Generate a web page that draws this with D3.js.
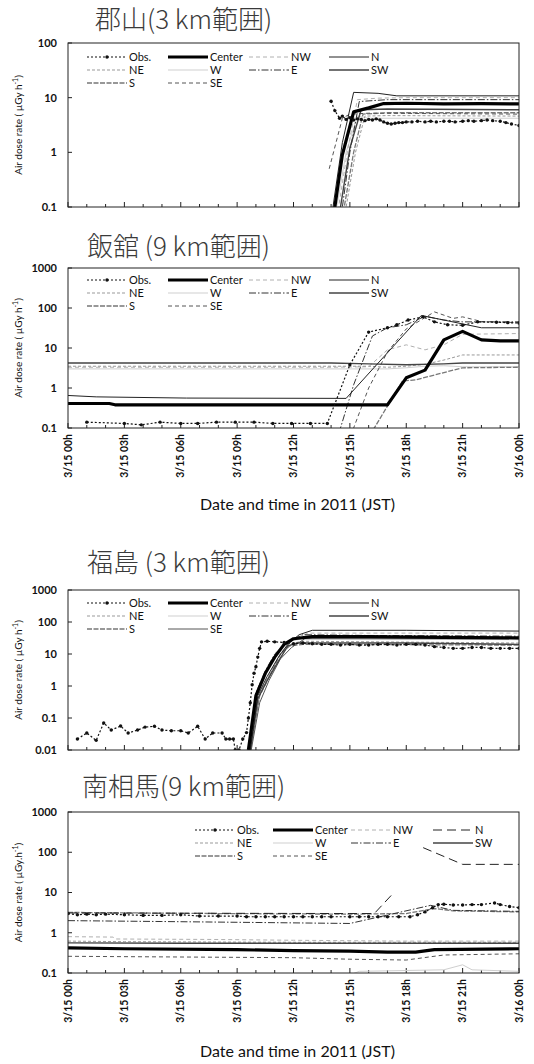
<!DOCTYPE html>
<html>
<head>
<meta charset="utf-8">
<script src="https://cdn.jsdelivr.net/npm/d3@7"></script>
<style>
  body { margin: 0; background: #fff; }
  svg { display: block; }
</style>
</head>
<body>
<svg id="chart" width="534" height="1064"></svg>
<script>
// ---- series and ticks ----
const seriesNames = ["Obs.", "Center", "NW", "N", "NE", "W", "E", "SW", "S", "SE"];
const hourTicks = [0, 3, 6, 9, 12, 15, 18, 21, 24];
const hourTickLabels = ["3/15 00h", "3/15 03h", "3/15 06h", "3/15 09h", "3/15 12h",
                        "3/15 15h", "3/15 18h", "3/15 21h", "3/16 00h"];

// 郡山 — [hour, µGy/h]
const koriyamaObs = [[14.0,8.6],[14.2,5.8],[14.45,4.2],[14.6,4.6],[14.8,4.0],[15.0,4.3],[15.2,3.9],[15.4,4.1],[15.6,4.0],[15.8,3.8],[16.0,4.0],[16.2,3.9],[16.4,4.1],[16.6,3.9],[16.8,3.6],[17.0,3.4],[17.2,3.3],[17.4,3.4],[17.6,3.5],[17.8,3.5],[18.0,3.6],[18.3,3.6],[18.6,3.7],[19.0,3.6],[19.3,3.7],[19.6,3.6],[20.0,3.7],[20.3,3.7],[20.6,3.6],[21.0,3.7],[21.3,3.8],[21.6,3.7],[22.0,3.8],[22.3,3.9],[22.6,3.8],[23.0,3.7],[23.3,3.5],[23.6,3.3],[24.0,3.1]];
const koriyamaCenter = [[13.6,0.04],[14.2,0.1],[14.6,0.9],[15.2,5.5],[16.0,6.5],[16.8,7.8],[18,7.9],[20,7.7],[22,7.8],[24,7.7]];
const koriyamaNW = [[13.8,0.04],[14.4,0.1],[14.9,1.2],[15.4,9.2],[16.5,9.8],[18,10],[24,10]];
const koriyamaN = [[13.5,0.04],[14.1,0.1],[14.6,1.5],[15.2,12.5],[16.5,12],[17.5,10.8],[24,10.8]];
const koriyamaNE = [[14.2,0.04],[14.8,0.1],[15.3,1.0],[15.8,4.6],[17,4.7],[24,4.6]];
const koriyamaW = [[13.7,0.04],[14.3,0.1],[14.8,1.0],[15.4,4.6],[16,4.2],[24,4.2]];
const koriyamaE = [[14.0,0.04],[14.6,0.1],[15.0,1.0],[15.5,8.5],[17,9.2],[24,9.2]];
const koriyamaSW = [[13.9,0.04],[14.5,0.1],[15.0,1.2],[15.6,6.0],[17,6.2],[24,6.0]];
const koriyamaS = [[14.1,0.04],[14.7,0.1],[15.2,1.0],[15.7,5.0],[17,5.3],[24,5.3]];
const koriyamaSE = [[13.9,0.5],[14.6,4.2],[15.0,5.0],[16,5.2],[24,5.0]];

// 飯舘
const iitateObs = [[1,0.14],[3,0.13],[3.9,0.12],[4.9,0.14],[6,0.13],[6.9,0.13],[7.9,0.14],[8.9,0.14],[9.9,0.14],[10.9,0.13],[11.9,0.13],[12.9,0.13],[13.8,0.13],[15,3.8],[16,25],[17,32],[17.5,38],[18.1,50],[18.9,60],[19.5,45],[20.2,38],[21,37],[21.8,45],[22.8,44],[23.4,43],[24,42]];
const iitateCenter = [[0,0.41],[2.2,0.41],[2.5,0.38],[16,0.38],[17,0.38],[18,1.8],[19,2.8],[20,16],[21,26],[22,16],[23,15],[24,15]];
const iitateNW = [[0,3.3],[14,3.3],[16,3.4],[17,9],[18,12],[19,9],[20,12],[21,22],[24,23]];
const iitateN = [[0,0.65],[1.5,0.6],[6.3,0.56],[14.8,0.55],[18.8,65],[20,50],[21,40],[22,32],[24,32]];
const iitateNE = [[0,3.5],[16,3.5],[17,3.3],[18,3.5],[19,3.9],[20,5],[21,6.7],[24,6.7]];
const iitateW = [[0,3.0],[15,3.0],[17,3.0],[18,3.2],[19,3.5],[20,3.6],[21,3.4],[24,3.4]];
const iitateE = [[13.8,0.05],[14.5,0.1],[15.2,1.2],[16.2,20],[17,32],[18,38],[19,62],[20,50],[21,45],[22,45],[24,45]];
const iitateSW = [[0,4.2],[14,4.2],[16,4.0],[18,3.8],[20,4.0],[21,4.2],[24,4.2]];
const iitateS = [[15.8,0.05],[16.3,0.1],[17.8,1.5],[18.5,1.6],[21,3.2],[24,3.3]];
const iitateSE = [[14.7,0.05],[15.2,0.1],[16,1],[17,8],[18,30],[19.5,80],[20.5,55],[21,60],[22,46],[24,43]];

// 福島
const fukushimaObs = [[0.5,0.022],[1,0.034],[1.5,0.02],[1.9,0.07],[2.3,0.042],[2.8,0.056],[3.2,0.034],[3.7,0.042],[4.1,0.052],[4.6,0.055],[5,0.042],[5.5,0.04],[6,0.04],[6.4,0.034],[6.9,0.055],[7.3,0.022],[7.7,0.034],[8.2,0.034],[8.4,0.022],[8.6,0.022],[8.8,0.022],[8.9,0.01],[9.1,0.01],[9.3,0.022],[9.5,0.035],[9.6,0.1],[9.7,0.3],[9.8,1.1],[9.9,2.5],[10.0,4],[10.1,8],[10.2,15],[10.3,24],[10.6,25],[11,24],[11.5,23],[12,21],[12.5,22],[13,21],[13.5,20],[14,20],[14.5,19],[15,20],[15.5,19],[16,19],[16.5,20],[17,20],[17.5,19],[18,20],[18.5,20],[19,19],[19.5,17],[20,16],[20.5,15],[21,15],[21.5,16],[22,16],[22.5,15],[23,15],[23.5,15],[24,15]];
const fukushimaCenter = [[9.6,0.01],[10,0.5],[10.5,2.5],[11,8],[11.5,20],[12,30],[13,35],[16,35],[20,33],[24,32]];
const fukushimaNW = [[9.7,0.01],[10.2,0.6],[10.8,3],[11.4,12],[12,30],[12.8,45],[24,45]];
const fukushimaN = [[9.7,0.01],[10.1,0.5],[10.6,2],[11.2,8],[11.7,20],[12.3,40],[13,55],[18,55],[24,52]];
const fukushimaNE = [[9.65,0.01],[10.1,0.7],[10.6,3],[11.2,12],[11.6,20],[12.5,25],[24,22]];
const fukushimaW = [[9.7,0.01],[10.2,0.5],[10.7,2],[11.3,10],[11.8,25],[12.5,30],[24,28]];
const fukushimaE = [[9.6,0.01],[10,0.6],[10.5,3],[11,10],[11.6,22],[12.5,40],[16,38],[24,36]];
const fukushimaSW = [[9.7,0.01],[10.1,0.4],[10.6,1.5],[11.2,6],[11.7,18],[12.2,22],[18,22],[24,20]];
const fukushimaS = [[9.7,0.01],[10.2,0.5],[10.8,2.5],[11.3,10],[11.8,18],[12.5,20],[24,19]];
const fukushimaSE = [[9.75,0.01],[10.2,0.3],[10.7,1.5],[11.3,7],[11.9,16],[12.6,30],[24,30]];

// 南相馬 (null marks a break in the line)
const minamisomaObs = [[0,3.0],[0.5,2.8],[1,2.9],[1.5,2.8],[2,2.9],[3,2.8],[4,2.7],[5,2.7],[6,2.8],[7,2.6],[8,2.6],[9,2.6],[9.5,2.5],[10,2.5],[10.5,2.5],[11,2.5],[11.5,2.5],[12,2.5],[12.5,2.5],[13,2.5],[13.5,2.5],[14,2.5],[15,2.5],[15.5,2.5],[16,2.5],[16.5,2.5],[17,2.5],[17.6,2.5],[18.2,2.5],[18.6,2.8],[19,3.3],[19.4,4.2],[19.7,5.0],[20,5.1],[20.5,4.9],[21,4.9],[21.5,5.0],[22,5.0],[22.7,5.5],[23,5.0],[23.5,4.5],[24,4.2]];
const minamisomaCenter = [[0,0.42],[3,0.4],[9,0.38],[12,0.36],[15,0.35],[17,0.33],[18.5,0.33],[19.5,0.38],[24,0.4]];
const minamisomaNW = [[0,0.8],[2.4,0.78],[2.5,0.7],[8,0.68],[12,0.65],[18,0.62],[24,0.62]];
const minamisomaN = [[0,3.1],[15,3.0],[16.3,3.0],[17.3,9.5],[17.4,null],[18.9,130],[21,50],[24,50]];
const minamisomaNE = [[0,0.62],[3,0.6],[12,0.58],[24,0.58]];
const minamisomaW = [[0,0.09],[15,0.09],[15.5,0.11],[20,0.12],[21,0.16],[21.5,0.12],[24,0.11]];
const minamisomaE = [[0,2.0],[5,1.9],[10,1.8],[15,1.7],[19.3,4.8],[20.5,3.6],[24,3.4]];
const minamisomaSW = [[0,0.56],[6,0.55],[24,0.55]];
const minamisomaS = [[0,3.2],[8,3.0],[15,2.9],[18,3.0],[19.5,4.0],[20.5,3.5],[24,3.3]];
const minamisomaSE = [[0,0.26],[12,0.24],[15,0.22],[18,0.21],[20,0.28],[24,0.3]];

const panelSeries = [
  [koriyamaObs, koriyamaCenter, koriyamaNW, koriyamaN, koriyamaNE, koriyamaW, koriyamaE, koriyamaSW, koriyamaS, koriyamaSE],
  [iitateObs, iitateCenter, iitateNW, iitateN, iitateNE, iitateW, iitateE, iitateSW, iitateS, iitateSE],
  [fukushimaObs, fukushimaCenter, fukushimaNW, fukushimaN, fukushimaNE, fukushimaW, fukushimaE, fukushimaSW, fukushimaS, fukushimaSE],
  [minamisomaObs, minamisomaCenter, minamisomaNW, minamisomaN, minamisomaNE, minamisomaW, minamisomaE, minamisomaSW, minamisomaS, minamisomaSE]
];

// ---- layout ----
const plotLeft = 68, plotRight = 519;
const panels = [
  { title: "郡山(3 km範囲)", titleX: 95, titleY: 29, top: 43, bottom: 207, yMin: 0.1, yMax: 100,
    legendY: 57, legendX: [129, 210, 291, 371], xLabels: false, unitSep: " " },
  { title: "飯舘 (9 km範囲)", titleX: 87, titleY: 256, top: 268, bottom: 428, yMin: 0.1, yMax: 1000,
    legendY: 280, legendX: [129, 210, 291, 371], xLabels: true, xTitleY: 510, unitSep: " " },
  { title: "福島 (3 km範囲)", titleX: 87, titleY: 572, top: 590, bottom: 750, yMin: 0.01, yMax: 1000,
    legendY: 603, legendX: [129, 210, 291, 371], xLabels: false, unitSep: " ", seOverride: { dash: null } },
  { title: "南相馬(9 km範囲)", titleX: 82, titleY: 796, top: 812, bottom: 973, yMin: 0.1, yMax: 1000,
    legendY: 830, legendX: [237, 315, 393, 475], xLabels: true, xTitleY: 1057, unitSep: ".", nOverride: { dash: "9,5" } }
];

const baseStyle = {
  "Obs.":   { stroke: "#111", width: 1.2, dash: "2,2" },
  "Center": { stroke: "#000", width: 3.2, dash: null },
  "NW":     { stroke: "#b0b0b0", width: 1, dash: "4,3" },
  "N":      { stroke: "#222", width: 1, dash: null },
  "NE":     { stroke: "#999", width: 1, dash: "3,2" },
  "W":      { stroke: "#cfcfcf", width: 1, dash: null },
  "E":      { stroke: "#333", width: 1, dash: "7,2,1.5,2" },
  "SW":     { stroke: "#444", width: 1.4, dash: null },
  "S":      { stroke: "#777", width: 1.3, dash: "5,1.5" },
  "SE":     { stroke: "#555", width: 1, dash: "4,3" }
};

const uiFont = "Lato, 'Open Sans', sans-serif";
const svg = d3.select("#chart");
const x = d3.scaleLinear().domain([0, 24]).range([plotLeft, plotRight]);
const fmt = v => v >= 1 ? String(Math.round(v)) : String(+v.toPrecision(1));

panels.forEach((p, pi) => {
  const g = svg.append("g");
  const y = d3.scaleLog().domain([p.yMin, p.yMax]).range([p.bottom, p.top]);
  const styleOf = name => {
    let s = Object.assign({}, baseStyle[name]);
    if (name === "SE" && p.seOverride) Object.assign(s, p.seOverride);
    if (name === "N" && p.nOverride) Object.assign(s, p.nOverride);
    return s;
  };

  // title
  g.append("text")
    .attr("x", p.titleX).attr("y", p.titleY)
    .attr("font-family", "'Noto Sans CJK JP', sans-serif")
    .attr("font-weight", 300)
    .attr("font-size", 26).attr("fill", "#3a3a3a")
    .text(p.title);

  // clip region
  const clipId = "plotclip" + pi;
  g.append("clipPath").attr("id", clipId)
    .append("rect")
    .attr("x", plotLeft).attr("y", p.top)
    .attr("width", plotRight - plotLeft).attr("height", p.bottom - p.top);

  // y decades
  const decades = y.ticks().filter(v => Math.abs(Math.log10(v) - Math.round(Math.log10(v))) < 1e-9);
  decades.forEach(v => {
    g.append("line").attr("x1", plotLeft).attr("x2", plotLeft + 4)
      .attr("y1", y(v)).attr("y2", y(v)).attr("stroke", "#222");
    g.append("text").attr("x", 57).attr("y", y(v)).attr("dy", "0.35em")
      .attr("text-anchor", "end").attr("font-family", uiFont)
      .attr("font-weight", 700).attr("font-size", 11).attr("fill", "#111")
      .text(fmt(v));
  });

  // y axis title
  const yt = g.append("text")
    .attr("transform", `translate(22,${(p.top + p.bottom) / 2}) rotate(-90)`)
    .attr("text-anchor", "middle").attr("font-family", uiFont)
    .attr("font-size", 10).attr("fill", "#111");
  yt.append("tspan").text(`Air dose rate ( µGy${p.unitSep}h`);
  yt.append("tspan").attr("dy", -4).attr("font-size", 7).text("-1");
  yt.append("tspan").attr("dy", 4).text(")");

  // hourly ticks on the time axis
  d3.range(0, 25).forEach(h => {
    const len = h % 3 === 0 ? 5 : 3;
    g.append("line").attr("x1", x(h)).attr("x2", x(h))
      .attr("y1", p.bottom).attr("y2", p.bottom - len).attr("stroke", "#222");
  });

  if (p.xLabels) {
    hourTicks.forEach((h, i) => {
      g.append("text")
        .attr("transform", `translate(${x(h)},${p.bottom + 6}) rotate(-90)`)
        .attr("text-anchor", "end").attr("dy", "0.35em")
        .attr("font-family", uiFont).attr("font-weight", 700)
        .attr("font-size", 10.5).attr("fill", "#111")
        .text(hourTickLabels[i]);
    });
    g.append("text")
      .attr("x", (plotLeft + plotRight) / 2 + 4).attr("y", p.xTitleY)
      .attr("text-anchor", "middle").attr("font-family", uiFont)
      .attr("font-size", 16).attr("fill", "#111")
      .text("Date and time in 2011 (JST)");
  }

  // series
  const line = d3.line()
    .defined(d => d[1] != null)
    .x(d => x(d[0])).y(d => y(d[1]));
  const plot = g.append("g").attr("clip-path", `url(#${clipId})`);
  const drawOrder = [5, 2, 4, 8, 9, 7, 6, 3, 1, 0];
  drawOrder.forEach(si => {
    const name = seriesNames[si];
    const s = styleOf(name);
    const data = panelSeries[pi][si];
    plot.append("path").datum(data)
      .attr("d", line).attr("fill", "none")
      .attr("stroke", s.stroke).attr("stroke-width", s.width)
      .attr("stroke-dasharray", s.dash)
      .attr("stroke-linejoin", "round");
    if (name === "Obs.") {
      plot.selectAll(null).data(data.filter(d => d[1] != null)).enter().append("circle")
        .attr("cx", d => x(d[0])).attr("cy", d => y(d[1]))
        .attr("r", 1.7).attr("fill", "#111");
    }
  });

  // frame
  g.append("rect")
    .attr("x", plotLeft).attr("y", p.top)
    .attr("width", plotRight - plotLeft).attr("height", p.bottom - p.top)
    .attr("fill", "none").attr("stroke", "#222").attr("stroke-width", 1);

  // legend: four columns, three rows
  seriesNames.forEach((name, i) => {
    const col = i % 4, row = Math.floor(i / 4);
    const lx = p.legendX[col], ly = p.legendY + row * 13;
    const s = styleOf(name);
    g.append("line").attr("x1", lx - 42).attr("x2", lx - 2)
      .attr("y1", ly).attr("y2", ly)
      .attr("stroke", s.stroke).attr("stroke-width", s.width)
      .attr("stroke-dasharray", s.dash);
    if (name === "Obs.") {
      g.append("circle").attr("cx", lx - 22).attr("cy", ly).attr("r", 1.7).attr("fill", "#111");
    }
    g.append("text").attr("x", lx).attr("y", ly).attr("dy", "0.35em")
      .attr("font-family", uiFont).attr("font-size", 11).attr("fill", "#111")
      .text(name);
  });
});
</script>
</body>
</html>
